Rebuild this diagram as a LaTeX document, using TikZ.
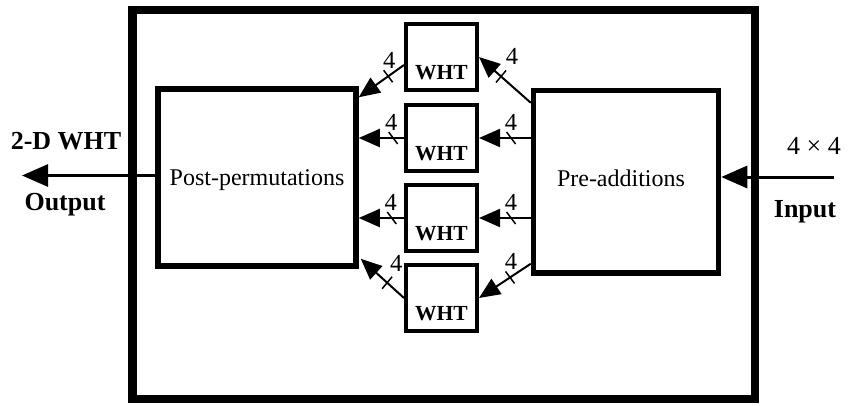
\documentclass[tikz,border=0pt]{standalone}
\usepackage{fontspec}
\setmainfont{Liberation Serif}
\usetikzlibrary{arrows.meta,decorations.markings,calc}

\begin{document}
\begin{tikzpicture}[x=1pt,y=-1pt,
  box/.style={draw, line width=5.5pt, inner sep=0pt, font=\fontsize{24}{24}\selectfont},
  whtbox/.style={draw, line width=4pt, minimum width=71pt, minimum height=66pt,
    inner sep=0pt, font=\fontsize{21.5}{21.5}\selectfont\bfseries,
    text height=44pt, text depth=0pt},
  bus/.style={line width=2pt, -{Triangle[length=21pt,width=18pt]}},
  io/.style={line width=3pt, -{Triangle[length=26pt,width=22pt]}},
  % bus-width slash: "\" or "/" as seen on the page, whatever the wire's direction
  cutdown/.style={postaction={decorate,decoration={markings,
    mark=at position #1 with {\pgftransformresetnontranslations
      \draw[-,line width=1.5pt] (-4.5,-6)--(4.5,6);}}}},
  cutup/.style={postaction={decorate,decoration={markings,
    mark=at position #1 with {\pgftransformresetnontranslations
      \draw[-,line width=1.5pt] (-5,6)--(5,-6);}}}},
  num/.style={font=\fontsize{24.5}{24.5}\selectfont, inner sep=0pt},
  tag/.style={font=\fontsize{26}{26}\selectfont\bfseries, inner sep=0pt}
]
\useasboundingbox (0,0) rectangle (849,405);

% enclosing frame
\node[draw, line width=8.5pt, minimum width=622.5pt, minimum height=389pt,
      inner sep=0pt] (frame) at (443.75,204.5) {};

% main blocks
\node[box, minimum width=198pt, minimum height=177pt, text depth=0pt]
  (post) at (257,177.5) {Post-permutations};
\node[box, minimum width=185pt, minimum height=182.5pt, text depth=8pt]
  (pre) at (626,181.75) {\hspace*{-10pt}Pre-additions};

% four 1-D transforms
\node[whtbox] (w1) at (441.5,57) {WHT};
\node[whtbox] (w2) at (441.5,138) {WHT};
\node[whtbox] (w3) at (441.5,218) {WHT};
\node[whtbox] (w4) at (441.5,298) {WHT};

% WHT outputs to post-permutations
\draw[bus, cutdown=0.35] ($(w1.west)+(0,8)$) --
  node[num, pos=0.35, above=7pt, xshift=1pt] (n1l) {4} ($(post.north east)+(0,11)$);
\draw[bus, cutdown=0.24] (w2.west) --
  node[num, pos=0.24, above=7pt, xshift=-2pt] (n2l) {4} (w2.west -| post.east);
\draw[bus, cutdown=0.27] (w3.west) --
  node[num, pos=0.27, above=7pt, xshift=-1pt] (n3l) {4} (w3.west -| post.east);
\draw[bus, cutup=0.39] (w4.west) --
  node[num, pos=0.39, above=10pt, xshift=9pt] (n4l) {4} ($(post.south east)+(2,-10)$);

% pre-additions to WHT inputs
\draw[bus, cutup=0.575] ($(pre.north west)+(0,15)$) --
  node[num, pos=0.575, above=11pt, xshift=11pt] (n1r) {4} (w1.east);
\draw[bus, cutdown=0.38] (w2.east -| pre.west) --
  node[num, pos=0.38, above=7pt] (n2r) {4} (w2.east);
\draw[bus, cutdown=0.38] (w3.east -| pre.west) --
  node[num, pos=0.38, above=7pt] (n3r) {4} (w3.east);
\draw[bus, cutdown=0.40] ($(pre.south west)+(0,-12)$) --
  node[num, pos=0.40, above=7pt, xshift=1pt] (n4r) {4} (w4.east);

% external output and input
\coordinate (outtip) at (22,175.5);
\coordinate (inend) at (834,177);
\draw[io] (post.west |- outtip) -- (outtip);
\draw[io] (inend) -- (inend -| pre.east);

\node[tag] (outname) at (66,141) {2-D WHT};
\node[tag] (outlab) at (65,205) {Output};
\node[tag] (inlab) at (805,212) {Input};
\node[font=\fontsize{26}{26}\selectfont, inner sep=0pt] (insize) at (814,146)
  {4\hspace{0.25em}×\hspace{0.25em}4};
\end{tikzpicture}
\end{document}
